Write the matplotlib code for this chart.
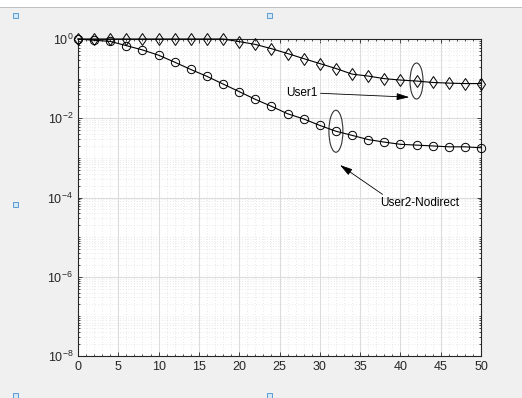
import numpy as np
import matplotlib.pyplot as plt
from matplotlib.patches import Ellipse, Rectangle
from matplotlib.ticker import LogLocator, MultipleLocator, NullFormatter

plt.rcParams['font.family'] = ['Liberation Sans', 'DejaVu Sans']

# --- Data ---
x = np.arange(0, 51, 2)
user1 = [1.0, 1.0, 1.0, 1.0, 1.0, 1.0, 1.0, 1.0, 1.0, 1.0,
         0.86, 0.73, 0.57, 0.43, 0.32, 0.24, 0.18, 0.13, 0.116, 0.10,
         0.092, 0.087, 0.080, 0.077, 0.075, 0.075]
user2 = [1.0, 0.93, 0.87, 0.68, 0.53, 0.39, 0.26, 0.17, 0.114, 0.073,
         0.047, 0.030, 0.020, 0.013, 0.0096, 0.0066, 0.0047, 0.0037, 0.0029, 0.0025,
         0.0022, 0.0021, 0.0020, 0.0019, 0.0019, 0.0018]

fig = plt.figure(figsize=(5.22, 3.98), dpi=100, facecolor='#f0f0f0')
ax = fig.add_axes([78/522, 1 - 356/398, 403/522, 317/398])
ax.set_facecolor('white')

ax.semilogy(x, user1, color='black', lw=0.8, marker='d', ms=6.5, mfc='none', mec='black', mew=0.7,
            clip_on=False, zorder=3)
ax.semilogy(x, user2, color='black', lw=0.8, marker='o', ms=6, mfc='none', mec='black', mew=0.7,
            clip_on=False, zorder=3)

ax.set_xlim(0, 50)
ax.set_ylim(1e-8, 1)
ax.xaxis.set_major_locator(MultipleLocator(5))
ax.xaxis.set_minor_locator(MultipleLocator(1))
ax.set_yticks([1e-8, 1e-6, 1e-4, 1e-2, 1])
ax.yaxis.set_minor_locator(LogLocator(base=10, subs=np.arange(1, 10), numticks=20))
ax.yaxis.set_minor_formatter(NullFormatter())

ax.grid(True, which='major', color='#dcdcdc', lw=0.8, ls='-')
ax.grid(True, which='minor', color='#d4d4d4', lw=0.5, ls=(0, (1, 3)))
ax.set_axisbelow(True)
ax.tick_params(which='both', direction='in', top=True, right=True, labelsize=9,
               colors='#262626', length=3, width=0.6)
ax.tick_params(which='minor', length=1.5)
for s in ax.spines.values():
    s.set_color('#262626')
    s.set_linewidth(0.8)

# --- Annotations ---
fig.canvas.draw()
to_ax = ax.transAxes.inverted()
c1 = to_ax.transform(ax.transData.transform((42, user1[21])))
c2 = to_ax.transform(ax.transData.transform((32, user2[16])))
ax.add_patch(Ellipse(c1, 13/403, 36/317, transform=ax.transAxes, fill=False, ec='#333333', lw=0.8))
ax.add_patch(Ellipse(c2, 14/403, 42/317, transform=ax.transAxes, fill=False, ec='#333333', lw=0.8))

arrow = dict(arrowstyle='-|>,head_length=0.9,head_width=0.25', color='black', lw=0.6,
             shrinkA=0, shrinkB=0)
ax.annotate('User1', xy=(41.1, 0.034), xytext=(27.8, 0.043), fontsize=8.5, ha='center', va='center',
            arrowprops=dict(arrow, relpos=(1, 0.5)))
ax.annotate('User2-Nodirect', xy=(32.5, 6.6e-4), xytext=(42.4, 7.2e-5), fontsize=8.5, ha='center', va='center',
            arrowprops=dict(arrow, relpos=(0.08, 1)))

# --- Window decorations (white strip and selection handles) ---
fig.add_artist(Rectangle((0, 1 - 7/398), 1, 7/398, transform=fig.transFigure, fc='white', ec='none'))
fig.add_artist(Rectangle((0, 1 - 8/398), 1, 1/398, transform=fig.transFigure, fc='#c0c0c0', ec='none'))
for px, py in [(15, 15), (269, 15), (15, 205), (15, 395), (269, 395)]:
    fig.add_artist(Rectangle(((px - 2.5)/522, 1 - (py + 2.5)/398), 5/522, 5/398,
                             transform=fig.transFigure, fc='#d4e8f8', ec='#5b9bd5', lw=0.7))

fig.savefig('out.png', dpi=100, facecolor=fig.get_facecolor())
